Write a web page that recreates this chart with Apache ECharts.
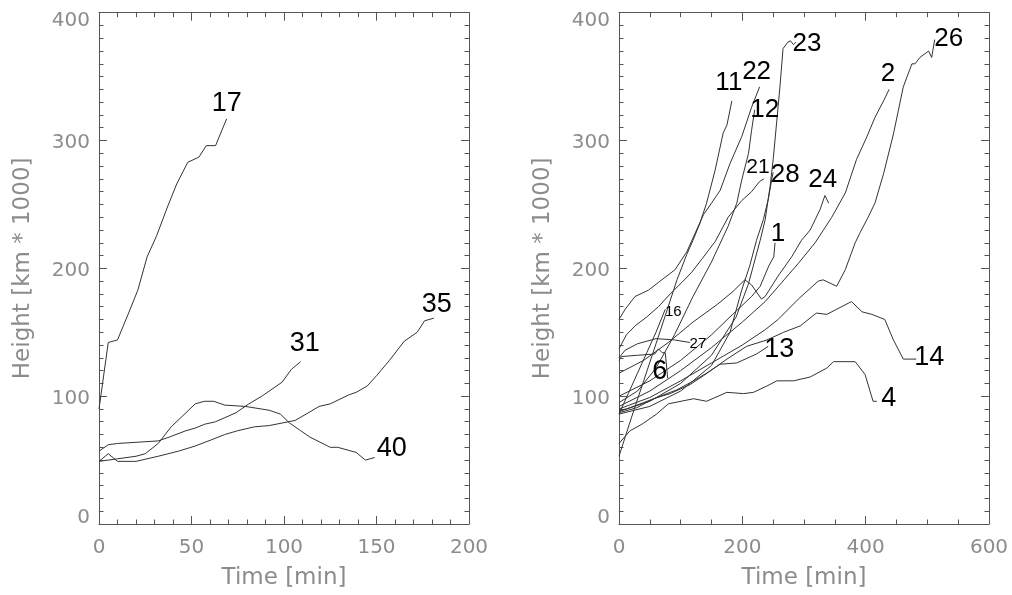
<!DOCTYPE html>
<html><head><meta charset="utf-8">
<script src="https://cdn.jsdelivr.net/npm/echarts@6/dist/echarts.min.js"></script>
<style>html,body{margin:0;padding:0;background:#fff}#c{width:1012px;height:595px}</style>
</head><body><div id="c"></div>
<script>
// ---------- tick labels ----------
const leftXTicks  = [0, 50, 100, 150, 200];
const rightXTicks = [0, 200, 400, 600];
const yTicks      = [0, 100, 200, 300, 400];
const xName = 'Time [min]';
const yName = 'Height [km * 1000]';

// ---------- left panel series ----------
const leftNames = ['17', '31', '35', '40'];
const s17 = [[0,90],[5,142],[10,144],[16,165],[21,183],[26,209],[31,225],[37,248],[42,266],[48,283],[54,287],[58,296],[63,296],[69,317]];
const s31 = [[0,57],[5,62],[10,63],[21,64],[32,65],[38,68],[47,73],[52,75],[57,78],[63,80],[74,87],[81,94],[88,100],[99,111],[104,121],[109,127]];
const s35 = [[0,49],[5,55],[10,49],[20,49],[32,53],[43,57],[52,61],[61,66],[68,70],[75,73],[84,76],[92,77],[99,79],[106,81],[112,86],[119,92],[125,94],[135,101],[139,103],[145,108],[150,116],[157,128],[165,143],[172,150],[176,159],[181,161]];
const s40 = [[0,49],[10,51],[20,53],[25,55],[32,63],[39,76],[47,87],[52,94],[57,96],[62,96],[68,93],[79,92],[92,89],[98,86],[103,79],[109,73],[114,68],[125,60],[129,60],[139,56],[144,50],[149,52]];

// ---------- right panel series ----------
const rightNames = ['11','16','22','12','21','23','28','1','24','2','26','14','13','4','6','27'];
const r11 = [[0,53],[10,68],[20,83],[40,112],[60,141],[75,163],[94,191],[110,211],[120,222],[131,235],[142,251],[156,277],[169,306],[175,312],[183,331]];
const r16 = [[0,86],[15,102],[30,118],[45,134],[60,150],[75,168]];
const r22 = [[0,160],[10,168],[26,178],[48,183],[64,189],[91,199],[110,213],[123,227],[137,242],[150,251],[164,261],[180,282],[199,303],[215,326],[228,342]];
const r12 = [[0,95],[30,104],[60,122],[90,148],[120,178],[150,205],[177,233],[191,251],[199,269],[210,290],[215,308],[220,324]];
const r21 = [[0,137],[12,148],[26,155],[45,162],[64,170],[83,180],[102,189],[118,197],[134,207],[156,221],[177,240],[199,253],[215,260],[228,268],[235,270]];
const r23 = [[0,88],[50,96],[100,110],[150,132],[190,162],[210,188],[229,222],[237,238],[245,264],[250,285],[256,316],[261,342],[266,372],[274,377],[278,378],[283,375],[287,377]];
const r28 = [[0,86],[50,92],[100,104],[150,124],[180,150],[199,183],[212,202],[223,222],[234,238],[242,254],[249,273],[250,275]];
const r1  = [[0,100],[50,112],[100,128],[150,148],[180,162],[215,178],[229,186],[243,202],[251,209],[253,220]];
const r24 = [[0,118],[40,128],[80,142],[120,158],[160,172],[185,182],[204,191],[215,187],[231,176],[237,178],[258,194],[280,209],[296,222],[310,230],[318,238],[326,246],[334,257],[336,258],[340,251]];
const r2  = [[0,92],[50,104],[100,120],[150,138],[200,158],[237,174],[264,189],[291,204],[318,220],[345,240],[367,259],[385,285],[402,303],[415,318],[429,331],[438,340]];
const r26 = [[0,90],[50,99],[100,112],[150,126],[200,140],[237,152],[258,160],[291,176],[323,190],[331,191],[353,186],[367,199],[383,220],[391,228],[404,240],[415,251],[429,274],[445,305],[461,342],[475,360],[480,360],[488,365],[502,370],[507,365],[512,379]];
const r14 = [[0,87],[29,91],[56,98],[83,102],[115,109],[137,116],[175,129],[207,139],[240,144],[267,150],[294,155],[320,165],[337,164],[377,174],[394,166],[410,164],[431,160],[445,144],[461,129],[482,129]];
const r13 = [[0,89],[12,90],[40,95],[67,100],[94,105],[121,112],[142,118],[164,125],[191,126],[223,133],[242,139]];
const r4  = [[0,63],[18,73],[37,78],[61,86],[80,94],[121,98],[142,96],[175,103],[202,102],[218,103],[240,108],[256,112],[283,112],[310,115],[337,122],[348,127],[383,127],[399,117],[412,96],[418,96]];
const r6  = [[0,128],[4,131],[30,132],[58,133],[64,137],[70,134],[75,134],[79,114]];
const r27 = [[0,130],[10,136],[30,141],[60,145],[90,144],[115,142]];

const leftData  = [s17, s31, s35, s40];
const rightData = [r11, r16, r22, r12, r21, r23, r28, r1, r24, r2, r26, r14, r13, r4, r6, r27];

// ---------- label styling (offset from line end, font size) ----------
const labelStyle = {
  '17':[0,-15,27], '31':[4,-18,27], '35':[3,-14,27], '40':[17,-9,27],
  '11':[-3,-18,26], '22':[-3,-15,26], '12':[10,0,26], '23':[11,2,26],
  '21':[-6,-12,21], '28':[12,2,26], '1':[3,-9,26], '24':[-6,-23,26],
  '2':[-1,-16,26], '26':[14,-1,26], '14':[13,-2,27], '4':[12,-3,27],
  '13':[11,3,27], '16':[8,3,15], '27':[8,1,15], '6':[-8,-7,27]
};

const AX = '#555';
const TXT = '#8c8c8c';
const TICKFONT = "'DejaVu Sans', sans-serif";
const LABFONT = "'Liberation Sans Narrow', 'Arial Narrow', 'Liberation Sans', sans-serif";
const tickText = {color: TXT, fontSize: 20, fontFamily: TICKFONT};

function mkAxis(kind, grid, ticks, minorSplit, pos, main) {
  const lo = ticks[0], hi = ticks[ticks.length-1];
  const ax = {
    gridIndex: grid, type: 'value', position: pos,
    min: lo, max: hi, interval: ticks[1]-ticks[0],
    axisLine: {show: true, onZero: false, lineStyle: {color: AX, width: 1}},
    axisTick: {show: true, inside: true, length: 8, lineStyle: {color: AX, width: 1}},
    minorTick: {show: true, splitNumber: minorSplit, length: 4.5, lineStyle: {color: AX, width: 1}},
    splitLine: {show: false}, minorSplitLine: {show: false},
    axisLabel: Object.assign({show: main, margin: kind === 'x' ? 14 : 9}, tickText),
    axisPointer: {show: false}
  };
  if (kind === 'y') {
    ax.axisLabel.formatter = v => v === hi ? '{t|' + v + '}' : (v === lo ? '{b|' + v + '}' : '{m|' + v + '}');
    ax.axisLabel.rich = {
      t: Object.assign({padding: [16, 0, 0, 0]}, tickText),
      b: Object.assign({padding: [0, 0, 13, 0]}, tickText),
      m: Object.assign({padding: [5, 0, 0, 0]}, tickText)
    };
  }
  if (main) {
    ax.name = kind === 'x' ? xName : yName;
    ax.nameLocation = 'middle';
    ax.nameGap = kind === 'x' ? 43 : 64;
    ax.nameTextStyle = {color: TXT, fontSize: 23, fontFamily: TICKFONT};
  }
  return ax;
}

function mkSeries(name, data, axisIdx) {
  const last = data[data.length-1];
  const st = labelStyle[name];
  return {
    type: 'line', name: name, xAxisIndex: axisIdx, yAxisIndex: axisIdx,
    data: data, showSymbol: false, symbol: 'none', smooth: false,
    lineStyle: {color: '#333', width: 1}, silent: true, animation: false,
    markPoint: {
      symbol: 'circle', symbolSize: 1, silent: true, animation: false,
      itemStyle: {color: 'rgba(0,0,0,0)'},
      data: [{coord: last, label: {show: true, position: 'inside', formatter: name,
        offset: [st[0], st[1]], color: '#000', fontSize: st[2], fontFamily: LABFONT}}]
    }
  };
}

const series = [];
leftNames.forEach((n, i) => series.push(mkSeries(n, leftData[i], 0)));
rightNames.forEach((n, i) => series.push(mkSeries(n, rightData[i], 2)));

const option = {
  animation: false,
  backgroundColor: '#fff',
  grid: [
    {left: 99, right: 543, top: 12.7, bottom: 69.7},
    {left: 619, right: 23, top: 12.7, bottom: 69.7}
  ],
  xAxis: [
    mkAxis('x', 0, leftXTicks, 5, 'bottom', true),
    mkAxis('x', 0, leftXTicks, 5, 'top', false),
    mkAxis('x', 1, rightXTicks, 4, 'bottom', true),
    mkAxis('x', 1, rightXTicks, 4, 'top', false)
  ],
  yAxis: [
    mkAxis('y', 0, yTicks, 10, 'left', true),
    mkAxis('y', 0, yTicks, 10, 'right', false),
    mkAxis('y', 1, yTicks, 10, 'left', true),
    mkAxis('y', 1, yTicks, 10, 'right', false)
  ],
  series: series
};

const chart = echarts.init(document.getElementById('c'), null, {renderer: 'canvas'});
chart.setOption(option);
</script></body></html>
